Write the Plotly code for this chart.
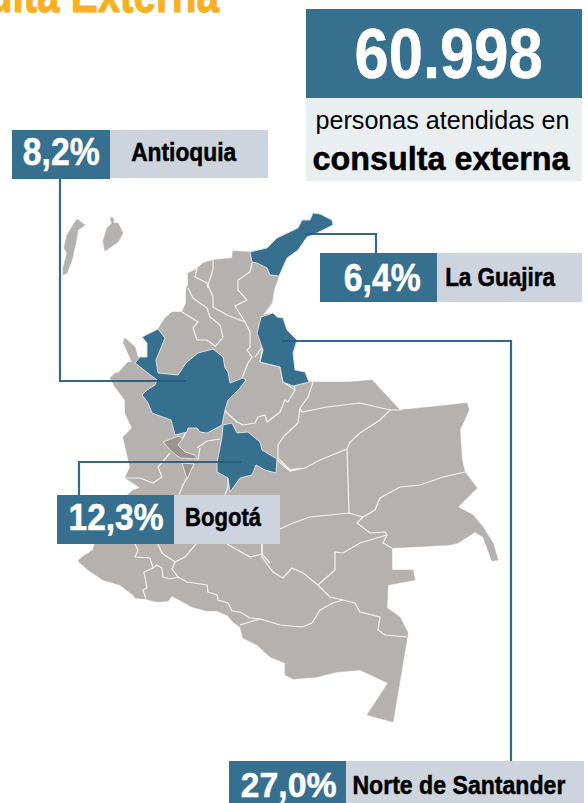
import plotly.graph_objects as go
import json

BLUE = "#36708e"
GRAY = "#b5b1ae"
DARK = "#9b948e"
LABEL = "#cdd4dd"
LIGHT = "#e9eef1"
ORANGE = "#fbb024"
LINE = "rgba(38,92,124,0.92)"
EDGE = "#f4f3f2"
SANS = "Liberation Sans"

# Rates and names
departments = ["Antioquia", "La Guajira", "Bogotá", "Norte de Santander"]
shares = ["8,2%", "6,4%", "12,3%", "27,0%"]
headline_value = "60.998"
headline_line1 = "personas atendidas en"
headline_line2 = "consulta externa"
title_text = "Consulta Externa"

# Map outlines, in image units
country_x = [313,320,332,333,317,307,298,287,279,274,272,263,273,277,283,287,297,293,295,305,309,350,372,400,430,467,469,460,462,465,477,458,473,483,493,498,492,483,475,458,450,392,392,413,415,388,387,400,408,393,367,388,360,337,317,293,285,285,270,257,243,240,233,227,217,207,192,180,172,168,157,145,135,133,120,103,88,78,82,93,100,133,140,133,125,130,123,132,125,125,115,110,115,118,128,132,123,125,135,138,140,147,147,142,158,165,172,182,186,186,188,188,195,203,213,232,233,250,267,277,298,302,310,313]
country_y = [213,214,220,225,233,237,250,258,276,290,303,315,313,317,318,330,340,353,370,372,382,382,380,410,407,403,410,430,460,472,488,507,515,527,543,560,561,537,532,543,545,548,570,570,580,585,608,617,633,722,715,683,670,672,677,679,675,663,657,645,638,627,622,615,611,611,607,600,596,601,602,599,598,595,585,580,570,561,557,550,520,490,488,483,478,467,437,428,413,400,387,378,373,373,362,362,342,338,347,358,357,357,343,337,329,318,312,312,303,289,285,273,270,263,260,258,251,252,248,238,228,220,220,213]
island_a_x = [77,85,78,76,72,67,63,63,67,64,67,77]
island_a_y = [219,225,230,242,260,273,275,268,253,248,235,219]
island_b_x = [112,114,113,118,123,118,105,103,107,112,110,112]
island_b_y = [217,220,223,223,233,242,251,241,228,223,219,217]

antioquia_x = [142,158,165,160,156,158,178,186,198,213,223,225,228,230,243,246,240,228,225,222,207,200,197,188,187,175,171,152,148,142,147,155,157,135,140,147,147,142]
antioquia_y = [337,329,338,350,360,373,375,363,353,349,357,368,372,383,378,380,388,400,410,425,433,432,428,428,432,435,420,413,403,395,390,385,380,363,357,357,343,337]
guajira_x = [250,267,277,298,302,310,313,320,332,333,317,307,298,287,279,270,267,257,252,250]
guajira_y = [252,248,238,228,220,220,213,214,220,225,233,237,250,258,276,275,268,263,262,252]
norte_x = [261,273,277,283,287,297,293,295,305,309,293,283,280,260,263,257,261]
norte_y = [317,313,317,318,330,340,353,370,372,382,386,382,367,362,350,333,317]
bogota_x = [223,232,237,248,260,262,277,276,265,256,252,240,230,228,217,217,222,223]
bogota_y = [425,423,433,432,442,450,459,473,470,465,475,478,492,478,472,463,437,425]
dark_a_x = [163,178,183,178,185,195,197,180,170,163]
dark_a_y = [442,436,438,445,452,455,459,458,450,442]
dark_b_x = [182,194,187,182]
dark_b_y = [463,464,479,463]

# White department borders, in image units
borders = [
    ([213,213,208,213,213,227,245,250,250,247,252,248,242], [260,270,285,297,307,315,322,332,347,350,357,363,378]),
    ([197,195,207,208], [268,277,283,288]),
    ([188,193,207,210,220,223,215], [288,298,308,317,325,337,347]),
    ([182,198,193,197,207,215], [312,322,328,340,340,346]),
    ([252,250,238,238,247,235,245], [263,272,280,290,300,306,322]),
    ([260,263,255], [362,346,357]),
    ([260,280,283,295,293], [362,367,382,390,378]),
    ([225,227,237,243,255,258,265,267,280,285,288,295], [410,413,422,425,423,417,415,422,412,400,402,390]),
    ([313,308,300,302,327,360,390], [382,397,408,412,407,403,410]),
    ([300,298,284,278,278,290,300], [408,423,436,445,458,470,468]),
    ([277,290,305,320,347,350,360,380,390,402], [460,471,468,460,449,442,433,420,410,410]),
    ([347,349], [449,513]),
    ([280,293,310,349,363,375,380,400,420,443,465], [529,523,517,513,517,510,498,487,485,477,472]),
    ([363,357,370,385,387,383,392], [517,523,533,532,535,543,548]),
    ([387,360,343,335,335,318], [535,543,553,552,570,585]),
    ([262,262,273,283,292,303,318,330,343,355,360,380,378,385,407], [544,557,572,578,568,573,585,597,600,603,612,617,630,635,637]),
    ([343,333,320,312,302,280,260,240], [600,603,610,623,627,625,619,625]),
    ([178,187,207,208,217,218,228,232,240,250,260], [577,582,585,592,595,600,603,611,612,618,619]),
    ([227,237,250,262,270], [544,550,557,554,563]),
    ([262,262], [544,555]),
    ([196,185,175,172,178,170,163,162,157,153,144,147,143,146], [544,557,562,569,577,579,577,568,565,568,572,588,590,599]),
    ([135,138,135,150,153], [544,550,557,558,568]),
    ([158,162,175], [544,553,562]),
    ([125,140,153,162,158,170], [478,478,483,477,467,453]),
    ([197,207,220], [448,441,439]),
    ([200,198], [448,460]),
    ([194,183,179], [464,485,495]),
    ([217,228,228,225], [463,477,487,495]),
    ([183,188], [438,428]),
]

fig = go.Figure()
for xs, ys in [(country_x, country_y), (island_a_x, island_a_y), (island_b_x, island_b_y)]:
    fig.add_trace(go.Scatter(x=xs, y=ys, mode="lines", fill="toself", fillcolor=GRAY,
                             line=dict(color=GRAY, width=0.5), hoverinfo="skip", showlegend=False))
for xs, ys in borders:
    fig.add_trace(go.Scatter(x=xs, y=ys, mode="lines", line=dict(color=EDGE, width=1.2),
                             hoverinfo="skip", showlegend=False))
for xs, ys, col in [(antioquia_x, antioquia_y, BLUE), (guajira_x, guajira_y, BLUE),
                    (norte_x, norte_y, BLUE), (bogota_x, bogota_y, BLUE),
                    (dark_a_x, dark_a_y, DARK), (dark_b_x, dark_b_y, DARK)]:
    fig.add_trace(go.Scatter(x=xs, y=ys, mode="lines", fill="toself", fillcolor=col,
                             line=dict(color=EDGE, width=0.8), hoverinfo="skip", showlegend=False))

# Connector lines
connectors = [
    ([60,60,186], [179,381,381]),
    ([305,376,376], [234,234,253]),
    ([282,511,511], [341,341,761]),
    ([241,79,79], [462,462,495]),
]
for xs, ys in connectors:
    fig.add_trace(go.Scatter(x=xs, y=ys, mode="lines", line=dict(color=LINE, width=2.2),
                             hoverinfo="skip", showlegend=False))

def rect(x0, y0, x1, y1, col):
    return dict(type="rect", xref="x", yref="y", x0=x0, y0=y0, x1=x1, y1=y1,
                fillcolor=col, line=dict(width=0), layer="above")

boxes = [
    (12, 130, 110, 179, 110, 268),
    (320, 253, 437, 302, 437, 582),
    (57, 495, 174, 544, 174, 280),
    (229, 761, 346, 803, 346, 584),
]
shapes = [rect(306, 9, 582, 98, BLUE), rect(306, 98, 582, 181, LIGHT)]
for x0, y0, x1, y1, g0, g1 in boxes:
    shapes.append(rect(g0, y0, g1, y1 - (1 if x0 == 12 else 0), LABEL))
    shapes.append(rect(x0, y0, x1, y1, BLUE))

widths = {}
def txt(cx, baseline, s, size, col, width, bold=True):
    widths[s] = width
    return dict(x=cx, y=baseline - 0.35 * size, xref="x", yref="y", text=s, showarrow=False,
                xanchor="center", yanchor="middle",
                font=dict(family=SANS, size=size, color=col, weight=700 if bold else 400))

widths[title_text] = 332
anns = [
    dict(x=53, y=1 + 6 / 803, xref="x", yref="paper", text=title_text, showarrow=False,
         xanchor="center", yanchor="middle", font=dict(family=SANS, size=52, color=ORANGE, weight=700)),
    txt(448, 78, headline_value, 71, "white", 188),
    txt(442, 129, headline_line1, 26, "black", 254, bold=False),
    txt(441.5, 170, headline_line2, 34, "black", 257),
    txt(61, 165, shares[0], 38, "white", 77),
    txt(184, 161, departments[0], 25, "black", 105),
    txt(382, 291, shares[1], 38, "white", 77),
    txt(500, 286, departments[1], 25, "black", 110),
    txt(116, 530, shares[2], 36, "white", 95),
    txt(223, 526, departments[2], 25, "black", 76),
    txt(288, 797, shares[3], 35, "white", 96),
    txt(458.5, 794, departments[3], 26, "black", 213),
]

fig.update_layout(
    width=588, height=803, margin=dict(l=0, r=0, t=0, b=0),
    paper_bgcolor="white", plot_bgcolor="white", showlegend=False,
    xaxis=dict(range=[0, 588], visible=False, fixedrange=True),
    yaxis=dict(range=[803, 0], visible=False, fixedrange=True),
    shapes=shapes, annotations=anns,
)
post = """
document.body.style.margin='0';document.body.style.overflow='hidden';
var w=%s;
document.querySelectorAll('.annotation-text').forEach(function(t){
  var n=w[t.textContent];
  if(n){t.setAttribute('textLength',n);t.setAttribute('lengthAdjust','spacingAndGlyphs');}
  if(t.textContent!=='personas atendidas en'){t.style.stroke=t.style.fill;t.style.strokeWidth=(t.textContent==='Consulta Externa')?'1.2px':'0.5px';}
});
""" % json.dumps(widths)
fig.write_html("out.html", config={"displayModeBar": False}, post_script=post)
